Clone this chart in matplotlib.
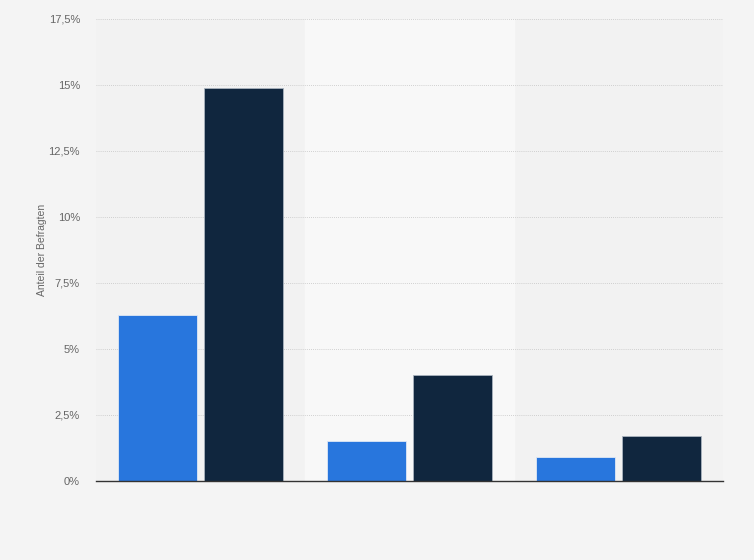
import numpy as np
import matplotlib
matplotlib.use('Agg')
import matplotlib.pyplot as plt

plt.rcParams['font.family'] = ['Liberation Sans', 'DejaVu Sans']

# data (share of respondents, %)
groups = ['', '', '']
series_a = [6.3, 1.5, 0.9]    # light blue
series_b = [14.9, 4.0, 1.7]   # dark navy
yticks = [0, 2.5, 5, 7.5, 10, 12.5, 15, 17.5]
ytick_labels = ['0%', '2,5%', '5%', '7,5%', '10%', '12,5%', '15%', '17,5%']

fig = plt.figure(figsize=(7.54, 5.6), dpi=100)
fig.patch.set_facecolor('#f4f4f4')
ax = fig.add_axes([96/754, 1-481/560, (723-96)/754, (481-19)/560])
ax.set_facecolor('#f2f2f2')

x = np.arange(len(groups))
w = 0.378
off = w/2 + 0.019

# lighter band behind the middle group
ax.axvspan(0.5, 1.5, color='#f8f8f8', zorder=0)

ax.bar(x - off, series_a, w, color='#2876dd', edgecolor='#dfe8f5', linewidth=0.6, zorder=3)
ax.bar(x + off, series_b, w, color='#10263e', edgecolor='#aab4bf', linewidth=0.6, zorder=3)

ax.set_xlim(-0.5, 2.5)
ax.set_ylim(0, 17.5)
ax.set_yticks(yticks)
ax.set_yticklabels(ytick_labels)
ax.set_xticks([])
ax.tick_params(axis='y', length=0, pad=11.5, labelsize=8, labelcolor='#666666')
ax.grid(axis='y', color='#c4c4c4', linestyle=(0, (1, 1.5)), linewidth=0.6, zorder=1)
ax.set_axisbelow(True)

for s in ['top', 'right', 'left']:
    ax.spines[s].set_visible(False)
ax.spines['bottom'].set_color('#333333')
ax.spines['bottom'].set_linewidth(1.0)
ax.spines['bottom'].set_zorder(4)

ax.set_ylabel('Anteil der Befragten', fontsize=7.5, color='#666666', labelpad=1)

fig.savefig('out.png', dpi=100, facecolor=fig.get_facecolor())
